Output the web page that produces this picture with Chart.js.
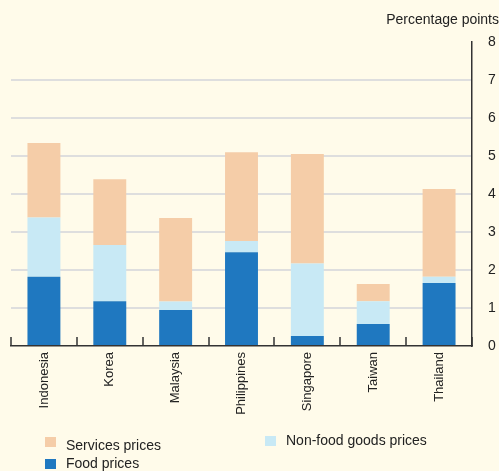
<!DOCTYPE html>
<html>
<head>
<meta charset="utf-8">
<script src="https://cdn.jsdelivr.net/npm/chart.js@4/dist/chart.umd.min.js"></script>
<style>
    body { margin: 0; background: #fffbea; font-family: "Liberation Sans", Arial, sans-serif; }
    #wrap { position: relative; width: 499px; height: 471px; overflow: hidden; }
    #chart { position: absolute; left: 0; top: 0; }
    #unit { position: absolute; right: 0; top: 11px; font-size: 14px; color: #222; }
    .leg { position: absolute; font-size: 14px; color: #222; white-space: nowrap; }
    .leg span { display: inline-block; width: 11px; height: 10px; margin-right: 10px; vertical-align: -1px; }
</style>
</head>
<body>
<div id="wrap">
    <canvas id="chart" width="499" height="471"></canvas>
    <div id="unit">Percentage points</div>
    <div id="legend"></div>
</div>
<script>
    // values (percentage points)
    let countries = ['Indonesia', 'Korea', 'Malaysia', 'Philippines', 'Singapore', 'Taiwan', 'Thailand'];
    let foodPrices = [1.82, 1.18, 0.95, 2.47, 0.26, 0.58, 1.66];
    let nonFoodGoods = [1.56, 1.48, 0.22, 0.29, 1.91, 0.60, 0.16];
    let servicesPrices = [1.96, 1.73, 2.20, 2.34, 2.88, 0.45, 2.31];
    let yTicks = [0, 1, 2, 3, 4, 5, 6, 7, 8];

    let selector = {
        canvas: document.getElementById('chart'),
        legend: document.getElementById('legend'),
        colors: { food: '#1f78c0', nonFood: '#c8e9f5', services: '#f5cda8' },
    }

    // short tick marks pointing up from the x axis, at the category boundaries
    let innerTicks = {
        id: 'innerTicks',
        afterDraw: function (chart) {
            let x = chart.scales.x;
            let ctx = chart.ctx;
            let half = (x.getPixelForTick(1) - x.getPixelForTick(0)) / 2;
            ctx.save();
            ctx.strokeStyle = '#333';
            ctx.lineWidth = 1.5;
            ctx.beginPath();
            for (let i = 0; i <= countries.length; i++) {
                let px = Math.round(x.getPixelForTick(Math.min(i, countries.length - 1)) + (i === countries.length ? half : -half));
                ctx.moveTo(px, x.top);
                ctx.lineTo(px, x.top - 9);
            }
            ctx.stroke();
            ctx.restore();
        }
    }

    function BuildLegend() {
        let items = [
            { label: 'Services prices', color: selector.colors.services, left: 45, top: 437, lift: 3 },
            { label: 'Non-food goods prices', color: selector.colors.nonFood, left: 265, top: 432, lift: -1 },
            { label: 'Food prices', color: selector.colors.food, left: 45, top: 455, lift: -1 },
        ];
        items.forEach(function (item) {
            let div = document.createElement('div');
            div.className = 'leg';
            div.style.left = item.left + 'px';
            div.style.top = item.top + 'px';
            div.innerHTML = `<span style="background:${item.color};vertical-align:${item.lift}px"></span>${item.label}`;
            selector.legend.appendChild(div);
        });
    }

    function DrawChart() {
        let ctx = selector.canvas.getContext('2d');
        new Chart(ctx, {
            type: 'bar',
            data: {
                labels: countries,
                datasets: [
                    { label: 'Food prices', data: foodPrices, backgroundColor: selector.colors.food },
                    { label: 'Non-food goods prices', data: nonFoodGoods, backgroundColor: selector.colors.nonFood },
                    { label: 'Services prices', data: servicesPrices, backgroundColor: selector.colors.services },
                ]
            },
            plugins: [innerTicks],
            options: {
                responsive: false,
                animation: false,
                layout: { padding: { top: 42, left: 11, right: 0, bottom: 45 } },
                datasets: { bar: { categoryPercentage: 1, barPercentage: 0.5 } },
                plugins: { legend: { display: false }, tooltip: { enabled: false } },
                scales: {
                    x: {
                        stacked: true,
                        afterFit: function (scale) { scale.height = 80; },
                        grid: { drawOnChartArea: false, drawTicks: false },
                        border: { display: true, color: '#333', width: 1.5 },
                        ticks: {
                            minRotation: 90,
                            maxRotation: 90,
                            padding: 6,
                            color: '#222',
                            font: { family: '"Liberation Sans", Arial', size: 13 },
                        }
                    },
                    y: {
                        stacked: true,
                        position: 'right',
                        min: 0,
                        max: 8,
                        afterFit: function (scale) { scale.width = 27; },
                        afterBuildTicks: function (scale) {
                            scale.ticks = yTicks.map(function (v) { return { value: v }; });
                        },
                        grid: {
                            drawTicks: false,
                            lineWidth: 2,
                            color: function (c) {
                                let v = c.tick ? c.tick.value : 0;
                                return (v === 0 || v === 8) ? 'rgba(0,0,0,0)' : '#dedede';
                            },
                        },
                        border: { color: '#333', width: 1.5 },
                        ticks: {
                            padding: 16,
                            color: '#222',
                            font: { family: '"Liberation Sans", Arial', size: 14 },
                        }
                    }
                }
            }
        });
    }

    window.onload = function () {
        BuildLegend();
        DrawChart();
    }
</script>
</body>
</html>
